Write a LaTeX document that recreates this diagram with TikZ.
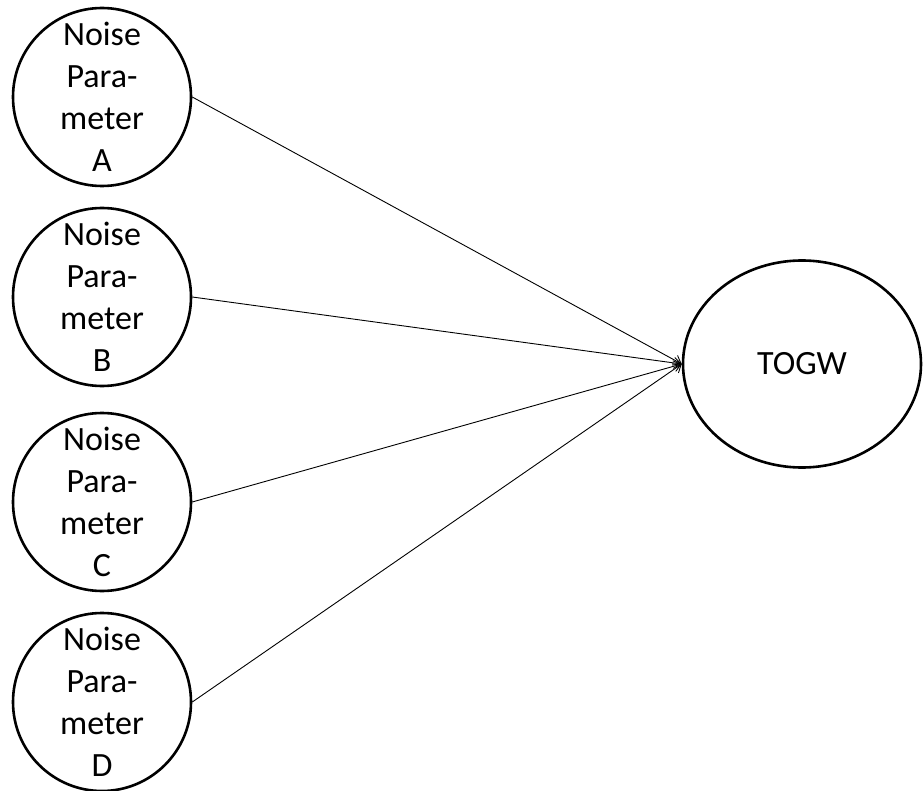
\documentclass[tikz,border=0pt]{standalone}
\usepackage{fontspec}
\setmainfont{Carlito}
\usetikzlibrary{arrows.meta,shapes.geometric}
\begin{document}
\begin{tikzpicture}[x=1pt,y=-1pt,
  param/.style={circle,draw,line width=2.6pt,minimum size=178pt,inner sep=0pt,
    align=center,font=\fontsize{34}{42}\selectfont},
  target/.style={ellipse,draw,line width=2.6pt,minimum width=238pt,minimum height=207pt,
    inner sep=0pt,font=\fontsize{34}{42}\selectfont},
  link/.style={line width=0.9pt,-{Straight Barb[length=7pt,width=11pt]}}]
\useasboundingbox (0,0) rectangle (923,791);
\node[param] (A) at (102,97)  {Noise\\Para-\\meter\\A};
\node[param] (B) at (102,297) {Noise\\Para-\\meter\\B};
\node[param] (C) at (102,502) {Noise\\Para-\\meter\\C};
\node[param] (D) at (102,702) {Noise\\Para-\\meter\\D};
\node[target] (T) at (802,364) {TOGW};
\foreach \n in {A,B,C,D}
  \draw[link] (\n.east) -- (T.west);
\end{tikzpicture}
\end{document}
